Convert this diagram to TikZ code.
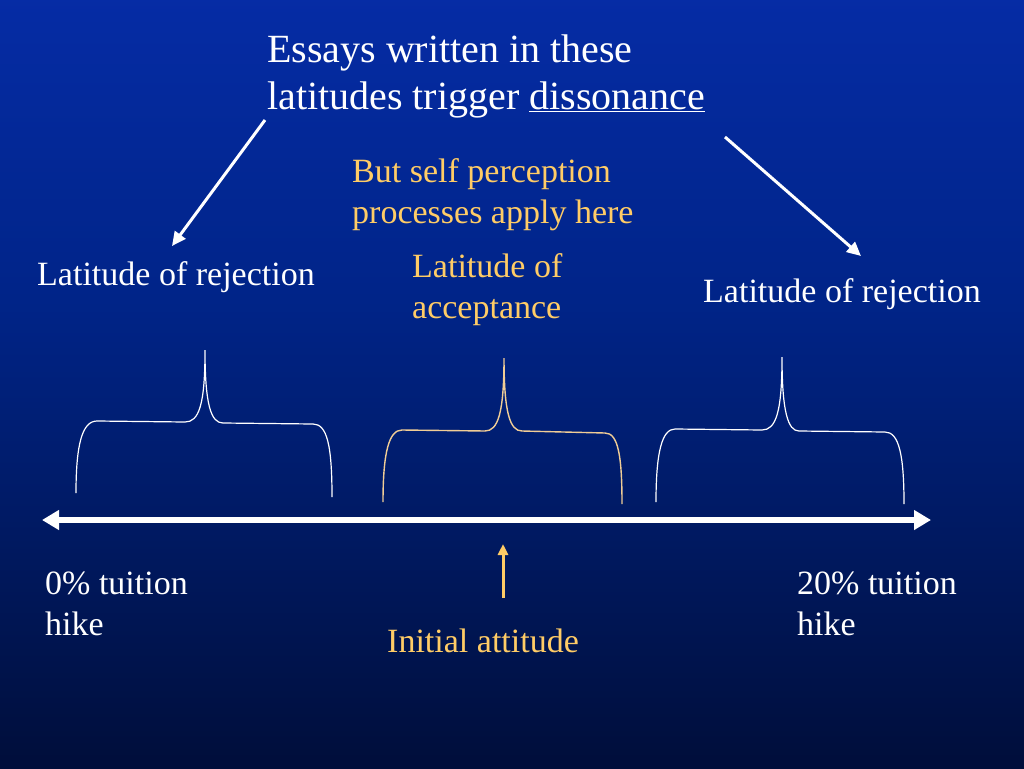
\documentclass[tikz,border=0pt]{standalone}
\usepackage{fontspec}
\setmainfont{Liberation Serif}
\usetikzlibrary{arrows.meta}
\definecolor{gold}{RGB}{255,204,102}
\definecolor{paleGold}{RGB}{240,205,150}
\pgfdeclareverticalshading{bgshade}{100bp}{%
  rgb(0bp)=(0,0,0.02); rgb(8bp)=(0,0,0.05); rgb(30bp)=(0,0.07,0.28); rgb(55bp)=(0,0.14,0.53); rgb(100bp)=(0.05,0.21,0.79)}
\begin{document}
\begin{tikzpicture}[x=1pt,y=-1pt,
  lbl/.style={inner sep=0pt,anchor=base west,text=white,align=left,font=\fontsize{34}{41}\selectfont},
  goldlbl/.style={lbl,text=gold},
  bigarrow/.style={draw=white,line width=3pt,-{Triangle[length=14pt,width=13pt]}},
  axisarrow/.style={draw=white,line width=6pt,{Triangle[length=17pt,width=19pt]}-{Triangle[length=17pt,width=19pt]}},
  brw/.style={draw=white,line width=1.2pt},
  brg/.style={draw=paleGold,line width=1.4pt}]
\useasboundingbox (0,0) rectangle (1024,768);
\shade[shading=bgshade] (0,0) rectangle (1024,768);

% texts (multi-line nodes are anchored at the baseline of their last line)
\node[lbl,font=\fontsize{40}{47}\selectfont] (title) at (267,109)
  {Essays written in these\\latitudes trigger \underline{dissonance}};
\node[goldlbl] (self) at (352,223) {But self perception\\processes apply here};
\node[lbl] (rejL) at (37,285) {Latitude of rejection};
\node[goldlbl] (acc) at (412,318) {Latitude of\\acceptance};
\node[lbl] (rejR) at (703,302) {Latitude of rejection};
\node[lbl] (zero) at (45,635) {0\% tuition\\hike};
\node[lbl] (twenty) at (797,635) {20\% tuition\\hike};
\node[goldlbl] (init) at (387,652) {Initial attitude};

% arrow end points
\coordinate (aLs) at (265,120);
\coordinate (aLe) at (172,246);
\coordinate (aRs) at (725,137);
\coordinate (aRe) at (861,256);
\coordinate (axL) at (42,520);
\coordinate (axR) at (931,520);
\coordinate (iaS) at (503,598);
\coordinate (iaE) at (503,544);

\draw[bigarrow] (aLs) -- (aLe);
\draw[bigarrow] (aRs) -- (aRe);
\draw[axisarrow] (axL) -- (axR);
\draw[draw=gold,line width=3pt,-{Triangle[length=11pt,width=10pt]}] (iaS) -- (iaE);

% braces
\draw[brw] (76,493) .. controls (76,445) and (82,421) .. (97,421)
  -- (185,422) .. controls (199,422) and (205,405) .. (205,350)
  .. controls (205,405) and (211,423) .. (223,423)
  -- (313,424) .. controls (327,424) and (332,445) .. (332,497);
\draw[brg] (383,502) .. controls (383,452) and (389,430) .. (402,430)
  -- (485,431) .. controls (498,431) and (504,413) .. (504,358)
  .. controls (504,413) and (510,431) .. (522,431)
  -- (605,433) .. controls (618,433) and (622,455) .. (622,504);
\draw[brw] (656,502) .. controls (656,452) and (662,429) .. (675,429)
  -- (762,430) .. controls (776,430) and (782,412) .. (782,357)
  .. controls (782,412) and (788,431) .. (799,431)
  -- (885,432) .. controls (899,432) and (904,455) .. (904,504);
\end{tikzpicture}
\end{document}
